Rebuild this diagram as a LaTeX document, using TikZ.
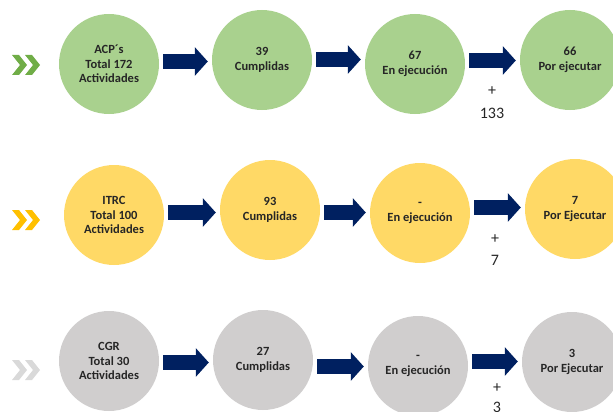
\documentclass[tikz,border=0pt]{standalone}
\usepackage{fontspec}
\setmainfont{Carlito}
\usetikzlibrary{arrows.meta}
\definecolor{cgreen}{HTML}{A9D18E}
\definecolor{cyellow}{HTML}{FFD966}
\definecolor{cgrey}{HTML}{D0CECE}
\definecolor{navy}{HTML}{002060}
\definecolor{chgreen}{HTML}{70AD47}
\definecolor{chgold}{HTML}{FFC000}
\definecolor{chgrey}{HTML}{D9D9D9}
\definecolor{txt}{HTML}{262626}
\tikzset{
  stage/.style={circle, minimum size=100pt, inner sep=0pt, align=center, text=txt,
    font=\fontsize{12.5}{14.5}\selectfont\bfseries},
  conn/.style={draw=navy, line width=14.5pt, shorten <=4pt, shorten >=4pt,
    -{Triangle[length=13pt,width=28pt]}},
  plus/.style={font=\fontsize{16}{18}\selectfont, text=txt, inner sep=0pt},
}
\newcommand\chevpair[3]{%
  \fill[#3] (#1,#2-10) -- ++(7,0) -- ++(8,10) -- ++(-8,10) -- ++(-7,0) -- ++(8,-10) -- cycle;
  \fill[#3] (#1+13,#2-10) -- ++(7,0) -- ++(8,10) -- ++(-8,10) -- ++(-7,0) -- ++(8,-10) -- cycle;}
\begin{document}
\begin{tikzpicture}[x=1pt,y=-1pt]
\useasboundingbox (0,0) rectangle (613,412);
\clip (0,0) rectangle (613,412);
% row 1
\chevpair{12}{65}{chgreen}
\node[stage, fill=cgreen] (r1a) at (109,64) {ACP´s\\Total 172\\Actividades};
\node[stage, fill=cgreen] (r1b) at (262,60) {39\\Cumplidas};
\node[stage, fill=cgreen] (r1c) at (415,64) {67\\En ejecución};
\node[stage, fill=cgreen] (r1d) at (570,60) {66\\Por ejecutar};
\draw[conn] (r1a.east |- 0,61.5) -- (r1b.west |- 0,61.5);
\draw[conn] (r1b.east |- 0,59.5) -- (r1c.west |- 0,59.5);
\draw[conn] (r1c.east |- 0,60.5) -- (r1d.west |- 0,60.5);
\node[plus] (p1) at (492,91) {+};
\node[plus] (n1) at (492,113) {133};
% row 2
\chevpair{12}{220}{chgold}
\node[stage, fill=cyellow] (r2a) at (114,215) {ITRC\\Total 100\\Actividades};
\node[stage, fill=cyellow] (r2b) at (270,210) {93\\Cumplidas};
\node[stage, fill=cyellow] (r2c) at (420,213) {-\\En ejecución};
\node[stage, fill=cyellow] (r2d) at (575,209) {7\\Por Ejecutar};
\draw[conn] (r2a.east |- 0,212.5) -- (r2b.west |- 0,212.5);
\draw[conn] (r2b.east |- 0,212.5) -- (r2c.west |- 0,212.5);
\draw[conn] (r2c.east |- 0,207.5) -- (r2d.west |- 0,207.5);
\node[plus] (p2) at (495,239) {+};
\node[plus] (n2) at (495,260) {7};
% row 3
\chevpair{12}{370}{chgrey}
\node[stage, fill=cgrey] (r3a) at (109,361) {CGR\\Total 30\\Actividades};
\node[stage, fill=cgrey] (r3b) at (263,360) {27\\Cumplidas};
\node[stage, fill=cgrey] (r3c) at (418,366) {-\\En ejecución};
\node[stage, fill=cgrey] (r3d) at (572,362) {3\\Por Ejecutar};
\draw[conn] (r3a.east |- 0,362.5) -- (r3b.west |- 0,362.5);
\draw[conn] (r3b.east |- 0,366.5) -- (r3c.west |- 0,366.5);
\draw[conn] (r3c.east |- 0,361.5) -- (r3d.west |- 0,361.5);
\node[plus] (p3) at (497,388) {+};
\node[plus] (n3) at (497,407) {3};
\end{tikzpicture}
\end{document}
